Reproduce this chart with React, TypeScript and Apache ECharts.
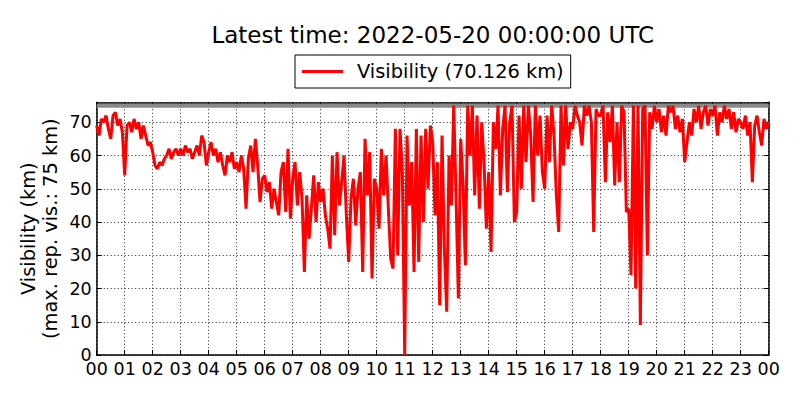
import React, { useEffect, useRef } from "react";
import * as echarts from "echarts";

// Visibility (km), one value every 5 minutes
const STEP_HOURS = 5 / 60;
const vis00to05 = [
  69, 66, 71, 70, 72, 68, 65, 72, 73, 69, 71, 67,
  54, 69, 70, 67, 71, 68, 70, 65, 69, 66, 63, 64,
  61, 57, 56, 58, 57, 59, 60, 62, 59, 61, 62, 60,
  62, 60, 63, 61, 62, 59, 61, 63, 60, 66, 64, 57,
  61, 64, 60, 62, 58, 61, 57, 54, 60, 58, 61, 56,
  58, 55, 60, 56, 44, 59, 63, 55, 65, 57, 46, 53,
];
const vis06to11 = [
  54, 49, 52, 44, 50, 46, 42, 55, 58, 43, 62, 41,
  53, 58, 45, 55, 47, 25, 48, 35, 44, 54, 40, 52,
  46, 50, 42, 38, 32, 60, 36, 61, 45, 52, 60, 42,
  28, 47, 53, 39, 50, 55, 25, 65, 48, 61, 23, 53,
  50, 38, 62, 48, 60, 44, 29, 26, 68, 30, 68, 55,
  0, 66, 45, 58, 25, 68, 28, 66, 40, 68, 50, 69,
];
const vis12to17 = [
  64, 42, 58, 15, 66, 32, 13, 60, 45, 75, 48, 17,
  65, 52, 27, 75, 60, 75, 48, 72, 44, 70, 58, 38,
  55, 31, 70, 62, 75, 48, 68, 75, 49, 70, 75, 40,
  43, 72, 50, 75, 58, 75, 66, 46, 75, 60, 72, 55,
  50, 72, 58, 75, 66, 48, 37, 75, 57, 75, 62, 70,
  68, 75, 72, 70, 63, 75, 72, 75, 70, 37, 74, 72,
];
const vis18to23 = [
  72, 75, 52, 73, 64, 75, 51, 70, 52, 75, 73, 43,
  44, 24, 75, 20, 75, 9, 74, 75, 30, 73, 68, 75,
  70, 74, 67, 72, 66, 75, 73, 75, 68, 72, 67, 71,
  58, 64, 70, 66, 74, 70, 75, 68, 73, 75, 69, 74,
  72, 75, 66, 73, 70, 75, 71, 74, 68, 73, 67, 71,
  70, 68, 72, 66, 70, 52, 69, 72, 67, 63, 71, 68,
];
const visLatest = 70.126;
const maxReportedVis = 75;

const titleText = "Latest time: 2022-05-20 00:00:00 UTC";
const seriesName = `Visibility (${visLatest} km)`;
const yLabelText = `Visibility (km)\n(max. rep. vis.: ${maxReportedVis} km)`;

const FONT = "DejaVu Sans";

export default function App() {
  const ref = useRef<HTMLDivElement>(null);

  useEffect(() => {
    if (!ref.current) return;
    const chart = echarts.init(ref.current, undefined, { renderer: "svg" });
    const values = [...vis00to05, ...vis06to11, ...vis12to17, ...vis18to23, visLatest];
    const data = values.map((v, i) => [i * STEP_HOURS, v]);

    const pad = (v: number) => String(Math.round(v) % 24).padStart(2, "0");
    const gridLine = { show: true, lineStyle: { color: "#000", width: 1, type: [1, 2.5] as any, opacity: 0.85 } };
    const tickIn = { show: true, inside: true, length: 5, lineStyle: { color: "#000", width: 1 } };
    const axisLine = { show: true, onZero: false, lineStyle: { color: "#000", width: 1.5 } };

    chart.setOption({
      animation: false,
      backgroundColor: "#fff",
      textStyle: { fontFamily: FONT },
      grid: { left: 96.7, right: 31.3, top: 102.3, bottom: 45, containLabel: false },
      legend: {
        data: [{ name: seriesName, icon: "rect" }],
        left: 295,
        top: 55,
        padding: [7, 7, 7, 7],
        itemWidth: 41,
        itemHeight: 3,
        borderColor: "#000",
        borderWidth: 1,
        borderRadius: 0,
        backgroundColor: "#fff",
        textStyle: { fontFamily: FONT, fontSize: 19.4, color: "#000", padding: [0, 0, 0, 9] },
      },
      xAxis: [
        {
          type: "value",
          min: 0,
          max: 24,
          interval: 1,
          position: "bottom",
          axisLine,
          axisTick: tickIn,
          axisLabel: { fontFamily: FONT, fontSize: 17.5, color: "#000", margin: 5, formatter: pad },
          splitLine: gridLine,
        },
        {
          type: "value",
          min: 0,
          max: 24,
          interval: 1,
          position: "top",
          axisLine,
          axisTick: tickIn,
          axisLabel: { show: false },
          splitLine: { show: false },
        },
      ],
      yAxis: [
        {
          type: "value",
          min: 0,
          max: 76,
          interval: 10,
          position: "left",
          axisLine,
          axisTick: tickIn,
          axisLabel: {
            fontFamily: FONT,
            fontSize: 17.5,
            color: "#000",
            margin: 5,
            showMaxLabel: false,
            formatter: (v: number) => (v % 10 === 0 ? String(v) : ""),
          },
          splitLine: gridLine,
        },
        {
          type: "value",
          min: 0,
          max: 76,
          interval: 10,
          position: "right",
          axisLine,
          axisTick: tickIn,
          axisLabel: { show: false },
          splitLine: { show: false },
        },
      ],
      graphic: [
        {
          type: "text",
          x: 432.7,
          y: 35,
          style: {
            text: titleText,
            font: `23px '${FONT}'`,
            fill: "#000",
            textAlign: "center",
            textVerticalAlign: "middle",
          },
        },
        {
          type: "text",
          x: 39,
          y: 228.7,
          rotation: Math.PI / 2,
          style: {
            text: yLabelText,
            font: `19.4px '${FONT}'`,
            fill: "#000",
            textAlign: "center",
            textVerticalAlign: "middle",
            lineHeight: 22,
          },
        },
      ],
      series: [
        {
          name: "maxline",
          type: "line",
          data: [
            [0, maxReportedVis],
            [24, maxReportedVis],
          ],
          showSymbol: false,
          silent: true,
          lineStyle: { color: "#8a8a8a", width: 4 },
          z: 1,
        },
        {
          name: seriesName,
          type: "line",
          data,
          showSymbol: false,
          lineStyle: { color: "#ff0000", width: 3 },
          itemStyle: { color: "#ff0000" },
          z: 3,
        },
      ],
    });
    return () => chart.dispose();
  }, []);

  return (
    <div
      ref={ref}
      style={{ position: "fixed", left: 0, top: 0, width: 800, height: 400, background: "#fff" }}
    />
  );
}
